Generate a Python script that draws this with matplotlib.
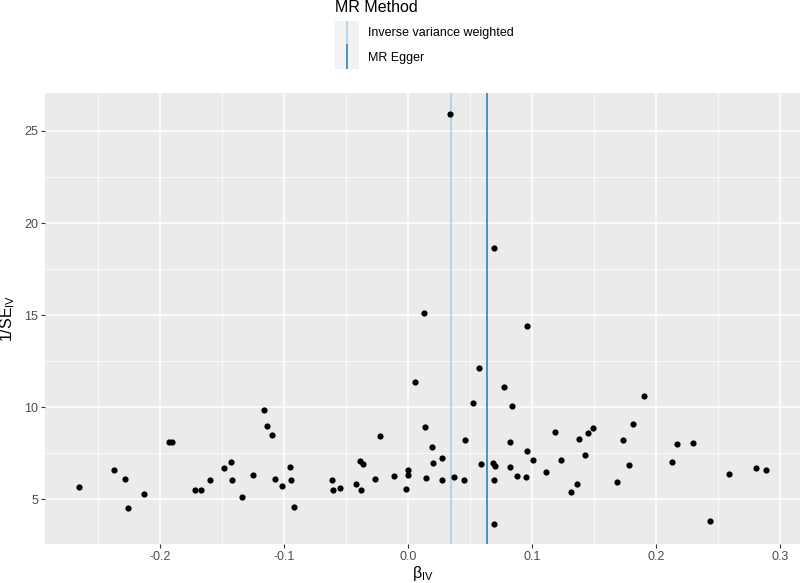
import numpy as np
import matplotlib
matplotlib.use('Agg')
import matplotlib.pyplot as plt
from matplotlib.patches import Rectangle

plt.rcParams['font.family'] = ['Liberation Sans', 'DejaVu Sans']
plt.rcParams['mathtext.default'] = 'regular'

# funnel plot data: beta_IV and 1/SE_IV
beta_iv = [-0.265, -0.237, -0.2285, -0.226, -0.213, -0.193, -0.190, -0.172, -0.167, -0.160,
           -0.148, -0.143, -0.142, -0.134, -0.125, -0.116, -0.114, -0.110, -0.107, -0.102,
           -0.095, -0.0945, -0.092, -0.061, -0.0605, -0.055, -0.042, -0.039, -0.036, -0.038,
           -0.027, -0.023, -0.011, -0.0013, 0.000, 0.000, 0.0054, 0.0137, 0.0145, 0.0132,
           0.019, 0.0204, 0.0272, 0.027, 0.034, 0.0367, 0.046, 0.0453, 0.0524, 0.0572,
           0.0585, 0.0688, 0.0704, 0.0696, 0.0696, 0.0696, 0.0769, 0.0836, 0.0823, 0.0825,
           0.0879, 0.0954, 0.0957, 0.096, 0.101, 0.111, 0.1183, 0.1234, 0.1315, 0.1363,
           0.138, 0.1422, 0.145, 0.1487, 0.168, 0.1728, 0.1777, 0.1809, 0.1903, 0.2129,
           0.2169, 0.2298, 0.2435, 0.2589, 0.2804, 0.2882]
inv_se = [5.65, 6.57, 6.08, 4.53, 5.30, 8.12, 8.09, 5.49, 5.50, 6.05,
          6.70, 7.04, 6.03, 5.12, 6.32, 9.86, 8.97, 8.50, 6.12, 5.70,
          6.75, 6.05, 4.55, 6.03, 5.52, 5.63, 5.83, 7.07, 6.93, 5.50,
          6.12, 8.41, 6.26, 5.56, 6.59, 6.30, 11.36, 8.92, 6.14, 15.14,
          7.85, 6.97, 7.25, 6.06, 25.95, 6.19, 8.21, 6.05, 10.2, 12.12,
          6.89, 6.99, 6.82, 6.03, 3.68, 18.63, 11.09, 10.05, 8.10, 6.73,
          6.24, 6.22, 7.64, 14.39, 7.11, 6.46, 8.65, 7.11, 5.41, 5.83,
          8.27, 7.40, 8.62, 8.85, 5.92, 8.19, 6.88, 9.10, 10.61, 7.02,
          8.01, 8.03, 3.84, 6.39, 6.71, 6.60]

methods = ['Inverse variance weighted', 'MR Egger']
method_beta = [0.0344, 0.0635]
method_col = ['#A6CEE3', '#1F78B4']

fig = plt.figure(figsize=(8, 5.83), dpi=100)
W, H = 800, 583
ax = fig.add_axes([45 / W, 1 - 544 / H, 755 / W, 451 / H])
ax.set_facecolor('#EBEBEB')
for s in ax.spines.values():
    s.set_visible(False)

x = np.array(beta_iv)
y = np.array(inv_se)
xr = x.max() - x.min()
yr = y.max() - y.min()
ax.set_xlim(x.min() - 0.05 * xr, x.max() + 0.05 * xr)
ax.set_ylim(y.min() - 0.05 * yr, y.max() + 0.05 * yr)

ax.set_xticks([-0.2, -0.1, 0.0, 0.1, 0.2, 0.3])
ax.set_xticklabels(['-0.2', '-0.1', '0.0', '0.1', '0.2', '0.3'])
ax.set_xticks([-0.25, -0.15, -0.05, 0.05, 0.15, 0.25], minor=True)
ax.set_yticks([5, 10, 15, 20, 25])
ax.set_yticks([7.5, 12.5, 17.5, 22.5], minor=True)
ax.grid(True, which='major', color='white', lw=1.1)
ax.grid(True, which='minor', color='white', lw=0.55)
ax.set_axisbelow(True)
ax.tick_params(which='major', length=2.8, width=0.8, color='#333333',
               labelsize=9, labelcolor='#4D4D4D', pad=2)
ax.tick_params(which='minor', length=0)

for b, c in zip(method_beta, method_col):
    ax.axvline(b, color=c, lw=1.1, zorder=2)
ax.scatter(x, y, s=20, color='black', zorder=3, linewidths=0)

ax.set_xlabel('β$_{IV}$', fontsize=11.5, labelpad=1)
ax.set_ylabel('1/SE$_{IV}$', fontsize=11.5, labelpad=5)

# legend on top, drawn by hand like ggplot's
lax = fig.add_axes([335 / W, 1 - 69 / H, 24 / W, 48 / H])
lax.set_xlim(0, 1)
lax.set_ylim(0, 2)
lax.axis('off')
for i, c in enumerate(method_col):
    yb = 1 - i
    lax.add_patch(Rectangle((0, yb), 1, 1, color='#F2F2F2', lw=0))
    lax.plot([0.5, 0.5], [yb, yb + 1], color=c, lw=1.1)
fig.text(335 / W, 1 - 8 / H, 'MR Method', fontsize=11.5, va='center', ha='left')
for i, m in enumerate(methods):
    fig.text(368 / W, 1 - (33 + 25 * i) / H, m, fontsize=9, va='center', ha='left')

fig.savefig('out.png', dpi=100, facecolor='white')
